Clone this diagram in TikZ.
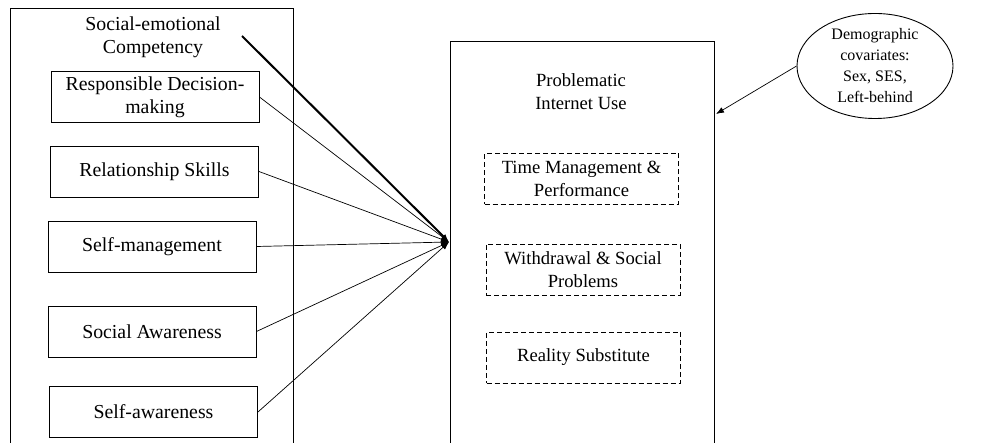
\documentclass[tikz,border=0pt]{standalone}
\usepackage{fontspec}
\setmainfont{Liberation Serif}
\usetikzlibrary{arrows.meta,shapes.geometric}

\begin{document}
\begin{tikzpicture}[x=1pt,y=-1pt]
    \tikzset{every node/.style={inner sep=0pt, align=center}}
    \tikzset{panel/.style={draw, line width=0.9pt, anchor=north west}}
    \tikzset{facet/.style={draw, line width=0.9pt, minimum width=208pt, minimum height=51pt, font=\fontsize{19.8}{23}\selectfont}}
    \tikzset{subscale/.style={draw, dashed, dash pattern=on 5pt off 3pt, line width=0.8pt, minimum width=194pt, minimum height=51pt, font=\fontsize{18.6}{23}\selectfont}}
    \tikzset{path/.style={line width=0.7pt, -{Latex[length=8pt,width=6pt]}}}
    \useasboundingbox (0,0) rectangle (990,443);
    \clip (0,0) rectangle (990,443);
    % left block
    \node[panel, minimum width=283pt, minimum height=480pt] (sec) at (10,8) {};
    \node[font=\fontsize{19.8}{23}\selectfont] (sectitle) at (153,37) {Social-emotional\\Competency};
    \node[facet] (rdm) at (155,97) {Responsible Decision-\\making};
    \node[facet] (rs) at (154.5,171.5) {Relationship Skills};
    \node[facet] (sm) at (152,246.5) {Self-management};
    \node[facet] (sa) at (152,331.5) {Social Awareness};
    \node[facet] (saw) at (153.5,412) {Self-awareness};
    % right block
    \node[panel, minimum width=264pt, minimum height=450pt] (piu) at (450,41) {};
    \node[font=\fontsize{18.6}{23}\selectfont] (piutitle) at (581,92) {Problematic\\Internet Use};
    \node[subscale] (tm) at (581.5,179) {Time Management \&\\Performance};
    \node[subscale] (ws) at (583,269.5) {Withdrawal \& Social\\Problems};
    \node[subscale] (rsub) at (583.5,357.5) {Reality Substitute};
    % covariates
    \node[draw, ellipse, line width=0.9pt, minimum width=156pt, minimum height=98pt, font=\fontsize{16}{21}\selectfont] (cov) at (875,66) {Demographic\\covariates:\\Sex, SES,\\Left-behind};
    \coordinate (hub) at (449,242);
    \coordinate (secstart) at (242,36);
    \coordinate (covtip) at (716,114);
    \draw[path, line width=2pt] (secstart) -- (hub);
    \foreach \n in {rdm,rs,sm,sa,saw}
        \draw[path] (\n.east) -- (hub);
    \draw[path] (cov.west) -- (covtip);
\end{tikzpicture}
\end{document}
